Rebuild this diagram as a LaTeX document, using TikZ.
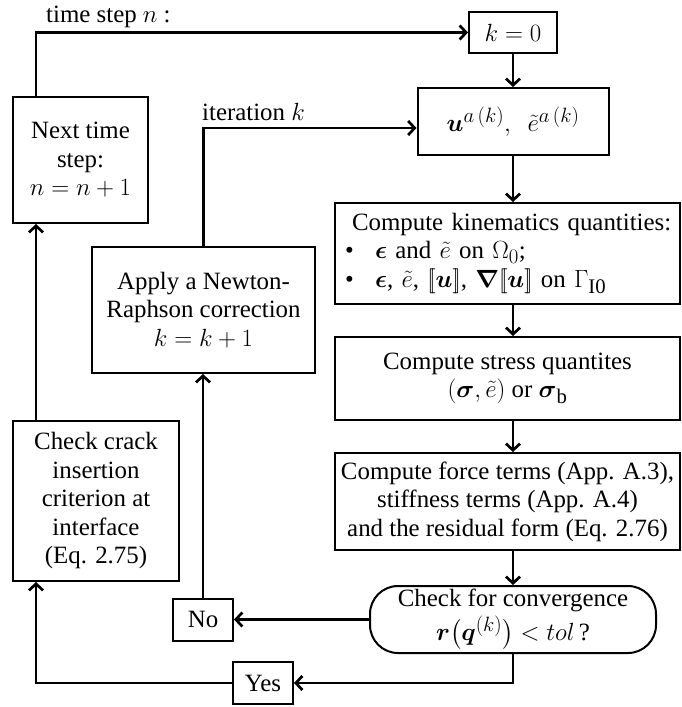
\documentclass[tikz,border=0pt]{standalone}
\usepackage{amsmath}
\usepackage{fontspec}
\setmainfont{Liberation Serif}
\usetikzlibrary{arrows.meta,calc}
\newcommand{\lbrk}{[\mkern-3mu[}
\newcommand{\rbrk}{]\mkern-3mu]}
\newcommand{\bulitem}{\makebox[35pt][l]{\hspace*{5pt}\textbullet}}
\tikzset{
  box/.style={draw, line width=2pt, inner sep=0pt, align=center, font=\fontsize{24.88}{28.5}\selectfont},
  roundbox/.style={box, rounded corners=28pt},
  lbl/.style={inner sep=0pt, font=\fontsize{24.88}{28.5}\selectfont},
  arr/.style={line width=2.7pt, -{Straight Barb[length=6.5pt,width=14pt]}}
}
\begin{document}
\begin{tikzpicture}[x=1pt,y=-1pt]
\useasboundingbox (0,0) rectangle (681,707);
% nodes
\node[box, minimum width=88pt, minimum height=41pt] (k0) at (513,32.5) {$k=0$};
\node[box, minimum width=191pt, minimum height=67pt] (u) at (513,121.5)
  {$\boldsymbol{u}^{a\,(k)},\ \ \tilde{e}^{a\,(k)}$};
\node[box, minimum width=345pt, minimum height=101pt, align=left, text width=335pt] (kin) at (507.5,253.5)
  {\hspace*{12pt}Compute kinematics quantities:\\[-0.5pt]
   \bulitem$\boldsymbol{\epsilon}$ and $\tilde{e}$ on $\Omega_0$;\\[1pt]
   \bulitem$\boldsymbol{\epsilon}$, $\tilde{e}$, $\lbrk\boldsymbol{u}\rbrk$, $\boldsymbol{\nabla}\lbrk\boldsymbol{u}\rbrk$ on $\Gamma_{\mathrm{I0}}$};
\node[box, minimum width=345pt, minimum height=83pt] (stress) at (507.5,378.5)
  {Compute stress quantites\\$(\boldsymbol{\sigma},\tilde{e})$ or $\boldsymbol{\sigma}_{\mathrm{b}}$};
\node[box, minimum width=345pt, minimum height=97pt] (force) at (507.5,501.5)
  {Compute force terms (App. A.3),\\stiffness terms (App. A.4)\\and the residual form (Eq. 2.76)};
\node[roundbox, minimum width=286pt, minimum height=67pt] (conv) at (513,619.5)
  {Check for convergence\\[3pt]$\boldsymbol{r}\big(\boldsymbol{q}^{(k)}\big) < tol\,$?};
\node[box, minimum width=60pt, minimum height=42pt] (no) at (203,619.5) {No};
\node[box, minimum width=60pt, minimum height=42pt] (yes) at (263,683) {Yes};
\node[box, minimum width=223pt, minimum height=126pt] (apply) at (203.5,310)
  {Apply a Newton-\\Raphson correction\\$k=k+1$};
\node[box, minimum width=166pt, minimum height=160pt] (crack) at (96,501)
  {Check crack\\insertion\\criterion at\\interface\\(Eq. 2.75)};
\node[box, minimum width=135pt, minimum height=126pt] (next) at (80.5,160)
  {Next time\\step:\\$n=n+1$};
\node[lbl, anchor=west] (tlab) at (46,17) {time step $n$ :};
\node[lbl, anchor=west] (ilab) at (202,112) {iteration $k$};
% connectors
\draw[arr] (k0.south) -- (k0.south |- u.north);
\draw[arr] (u.south) -- (u.south |- kin.north);
\draw[arr] ([xshift=5.5pt]kin.south) -- ([xshift=5.5pt]stress.north);
\draw[arr] ([xshift=5.5pt]stress.south) -- ([xshift=5.5pt]force.north);
\draw[arr] ([xshift=5.5pt]force.south) -- (conv.north);
\draw[arr] (conv.west) -- (no.east);
\draw[arr] (conv.south) |- (yes.east);
\draw[arr] (no.north) -- (no.north |- apply.south);
\draw[arr] (apply.north) |- ([yshift=-6.5pt]u.west);
\draw[arr] (yes.west) -| ([xshift=24pt]crack.south west);
\draw[arr] ([xshift=24pt]crack.north west) -- ([xshift=24pt]next.south west);
\draw[arr] ([xshift=24pt]next.north west) |- (k0.west);
\end{tikzpicture}
\end{document}
